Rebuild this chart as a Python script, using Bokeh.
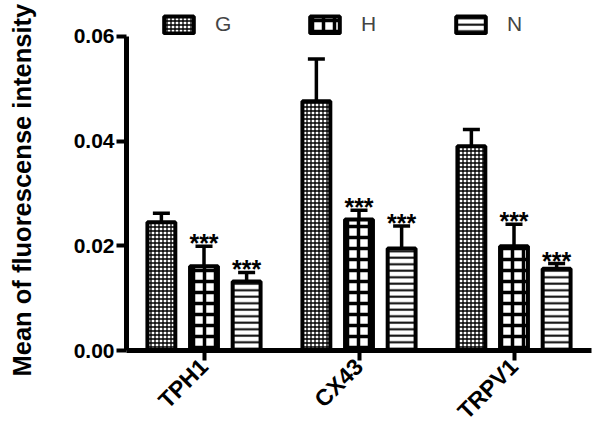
from math import pi
from bokeh.plotting import figure
from bokeh.models import (FixedTicker, NumeralTickFormatter, ColumnDataSource, Whisker,
                          TeeHead, Legend, LegendItem, Range1d, Title)
from bokeh.core.properties import value
from bokeh.embed import file_html
from bokeh.resources import INLINE

# ---- data ----
categories = ["TPH1", "CX43", "TRPV1"]
series = ["G", "H", "N"]
g_mean = [0.0245, 0.0476, 0.0390]
g_upper = [0.0262, 0.0557, 0.0422]
h_mean = [0.0161, 0.0250, 0.0199]
h_upper = [0.0199, 0.0268, 0.0241]
n_mean = [0.0132, 0.0195, 0.0156]
n_upper = [0.0149, 0.0238, 0.0166]
h_sig = ["***", "***", "***"]
n_sig = ["***", "***", "***"]
y_ticks = [0.0, 0.02, 0.04, 0.06]
y_label = "Mean of fluorescense intensity"

FONT = "Liberation Sans"
offsets = {"G": -0.275, "H": 0.0, "N": 0.275}
means = {"G": g_mean, "H": h_mean, "N": n_mean}
uppers = {"G": g_upper, "H": h_upper, "N": n_upper}
sigs = {"G": None, "H": h_sig, "N": n_sig}

# frame geometry: axis top (0.06) sits 36px below frame top, leaving room for the legend
W, H = 598, 436
FRAME_H = 351
AXIS_H = 315
y_end = y_ticks[-1] * FRAME_H / AXIS_H

p = figure(width=W, height=H, output_backend="svg", toolbar_location=None,
           x_range=Range1d(-0.5, 2.5), y_range=Range1d(0, y_end),
           min_border_left=122, min_border_right=7, min_border_bottom=H - FRAME_H,
           min_border_top=0)
p.outline_line_color = None
p.xgrid.visible = False
p.ygrid.visible = False
p.background_fill_color = "white"

styles = {
    "G": dict(hatch_pattern="cross", hatch_scale=4, hatch_weight=1.3),
    "H": dict(hatch_pattern="cross", hatch_scale=11, hatch_weight=3.5),
    "N": dict(hatch_pattern="horizontal_line", hatch_scale=6.5, hatch_weight=2),
}

renderers = {}
for s in series:
    xs = [i + offsets[s] for i in range(len(categories))]
    src = ColumnDataSource(dict(x=xs, top=means[s], upper=uppers[s]))
    r = p.vbar(x="x", top="top", bottom=0, width=0.18, source=src,
               fill_color="white", line_color="black", line_width=4,
               hatch_color="black", **styles[s])
    renderers[s] = r
    w = Whisker(base="x", lower="top", upper="upper", dimension="height", source=src,
                line_color="black", line_width=3.5, lower_head=None,
                upper_head=TeeHead(size=17, line_width=3.5, line_color="black"))
    p.add_layout(w)
    if sigs[s] is not None:
        tsrc = ColumnDataSource(dict(x=xs, y=uppers[s], t=sigs[s]))
        p.text(x="x", y="y", text="t", source=tsrc, text_align="center",
               text_baseline="alphabetic", y_offset=-3, text_font_size="25px",
               text_font_style="bold", text_font=value(FONT), text_color="black")

legend = Legend(items=[LegendItem(label=s, renderers=[renderers[s]]) for s in series],
                orientation="horizontal", location=(34, 314),
                glyph_width=37, glyph_height=21, label_standoff=18, spacing=71,
                label_text_font_size="21px", label_text_font=FONT,
                border_line_color=None, background_fill_alpha=0, padding=4, margin=0)
p.add_layout(legend)

# axes
p.yaxis.ticker = FixedTicker(ticks=y_ticks)
p.yaxis.bounds = (y_ticks[0], y_ticks[-1])
p.yaxis.formatter = NumeralTickFormatter(format="0.00")
p.yaxis.axis_label = " "
p.yaxis.axis_label_text_font_size = "1px"
p.yaxis.axis_label_standoff = 26
p.xaxis.ticker = FixedTicker(ticks=list(range(len(categories))))
p.xaxis.major_label_overrides = {i: c for i, c in enumerate(categories)}
p.xaxis.major_label_orientation = pi / 4
for ax in (p.xaxis, p.yaxis):
    ax.axis_line_width = 5
    ax.axis_line_color = "black"
    ax.major_tick_line_width = 4
    ax.major_tick_line_color = "black"
    ax.major_tick_out = 10
    ax.major_tick_in = 0
    ax.minor_tick_line_color = None
    ax.major_label_text_font = FONT
    ax.major_label_text_font_style = "bold"
    ax.major_label_text_color = "black"
p.yaxis.major_label_standoff = 2
p.xaxis.major_label_standoff = 2
p.yaxis.major_label_text_font_size = "21px"
p.xaxis.major_label_text_font_size = "23px"

# y-axis title, anchored at the bottom of the frame and run upwards
ytitle = Title(text=y_label, align="left", offset=-26,
               text_font=FONT, text_font_size="25.5px", text_font_style="bold",
               text_color="black")
p.add_layout(ytitle, "left")

open("out.html", "w").write(file_html(p, INLINE))
